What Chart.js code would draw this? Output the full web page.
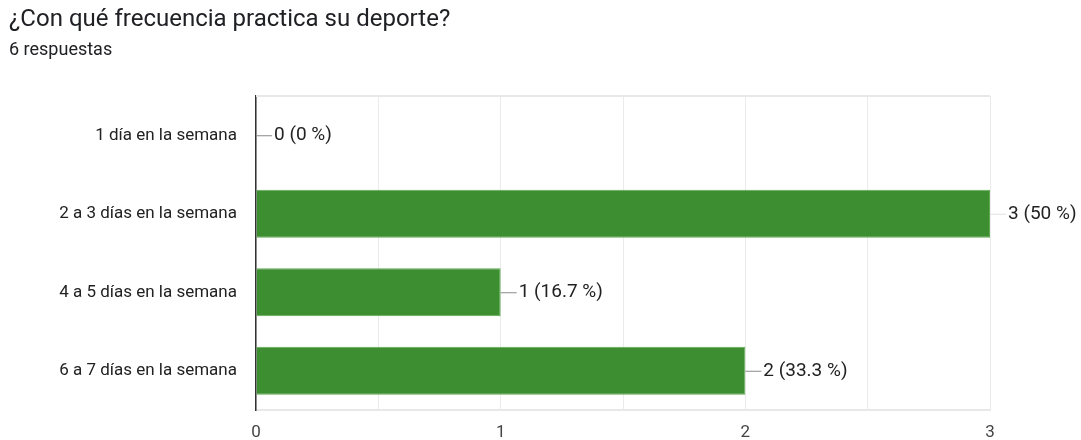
<!DOCTYPE html>
<html>
<head>
<meta charset="utf-8">
<script src="https://cdn.jsdelivr.net/npm/chart.js@4"></script>
<style>
  html, body { margin: 0; padding: 0; background: #fff; }
  #wrap { width: 1081px; height: 440px; }
</style>
</head>
<body>
<div id="wrap"><canvas id="freq"></canvas></div>
<script>
var categories = ["1 día en la semana", "2 a 3 días en la semana", "4 a 5 días en la semana", "6 a 7 días en la semana"];
var counts = [0, 3, 1, 2];
var percents = ["0 %", "50 %", "16.7 %", "33.3 %"];
var xTicks = [0, 1, 2, 3];

// draws the "n (p %)" labels with the little leader line
var barLabels = {
    id: 'barLabels',
    afterDatasetsDraw: function (chart) {
        var ctx = chart.ctx;
        var meta = chart.getDatasetMeta(0);
        ctx.save();
        ctx.font = '19px Roboto';
        ctx.textBaseline = 'middle';
        meta.data.forEach(function (bar, i) {
            ctx.strokeStyle = bar.x >= chart.chartArea.right - 1 ? '#e0e0e0' : '#8a8a8a';
            ctx.lineWidth = 1;
            ctx.beginPath();
            ctx.moveTo(bar.x, bar.y + 0.5);
            ctx.lineTo(bar.x + 16, bar.y + 0.5);
            ctx.stroke();
            ctx.fillStyle = '#222';
            ctx.fillText(counts[i] + ' (' + percents[i] + ')', bar.x + 18, bar.y);
        });
        ctx.restore();
    }
};

// top rule of the plot frame
var frameTop = {
    id: 'frameTop',
    beforeDatasetsDraw: function (chart) {
        var a = chart.chartArea;
        var ctx = chart.ctx;
        ctx.save();
        ctx.strokeStyle = '#e8e8e8';
        ctx.lineWidth = 2;
        ctx.beginPath();
        ctx.moveTo(a.left, a.top);
        ctx.lineTo(a.right, a.top);
        ctx.stroke();
        ctx.restore();
    }
};

var freqChart = new Chart(document.getElementById('freq'), {
    type: 'bar',
    data: {
        labels: categories,
        datasets: [{
            data: counts,
            backgroundColor: '#3c8e30',
            borderColor: '#5faa50',
            borderWidth: 1,
            barPercentage: 0.61,
            categoryPercentage: 1
        }]
    },
    plugins: [barLabels, frameTop],
    options: {
        indexAxis: 'y',
        responsive: true,
        maintainAspectRatio: false,
        animation: false,
        layout: {
            padding: { left: 9, right: 91, top: 0, bottom: 0 }
        },
        plugins: {
            legend: { display: false },
            tooltip: { enabled: false },
            title: {
                display: true,
                text: '¿Con qué frecuencia practica su deporte?',
                align: 'start',
                color: '#202124',
                font: { family: 'Roboto', size: 24, weight: 'normal', lineHeight: 1.2 },
                padding: { top: 6, bottom: 4 }
            },
            subtitle: {
                display: true,
                text: '6 respuestas',
                align: 'start',
                color: '#202124',
                font: { family: 'Roboto', size: 18, weight: 'normal', lineHeight: 1.2 },
                padding: { top: 1, bottom: 34.6 }
            }
        },
        scales: {
            x: {
                min: 0,
                max: 3,
                afterFit: function (scale) { scale.height = 30; },
                ticks: {
                    stepSize: 0.5,
                    autoSkip: false,
                    maxRotation: 0,
                    padding: 13,
                    color: '#444',
                    font: { family: 'Roboto', size: 17 },
                    callback: function (v) { return xTicks.indexOf(v) >= 0 ? v : ''; }
                },
                grid: { color: '#ebebeb', drawTicks: false },
                border: { color: '#e8e8e8', width: 2 }
            },
            y: {
                afterFit: function (scale) { scale.width = 247; },
                ticks: {
                    padding: 19,
                    color: '#222',
                    font: { family: 'Roboto', size: 17 }
                },
                grid: { display: false, drawTicks: false },
                border: { color: '#333', width: 1.5 }
            }
        }
    }
});
</script>
</body>
</html>
